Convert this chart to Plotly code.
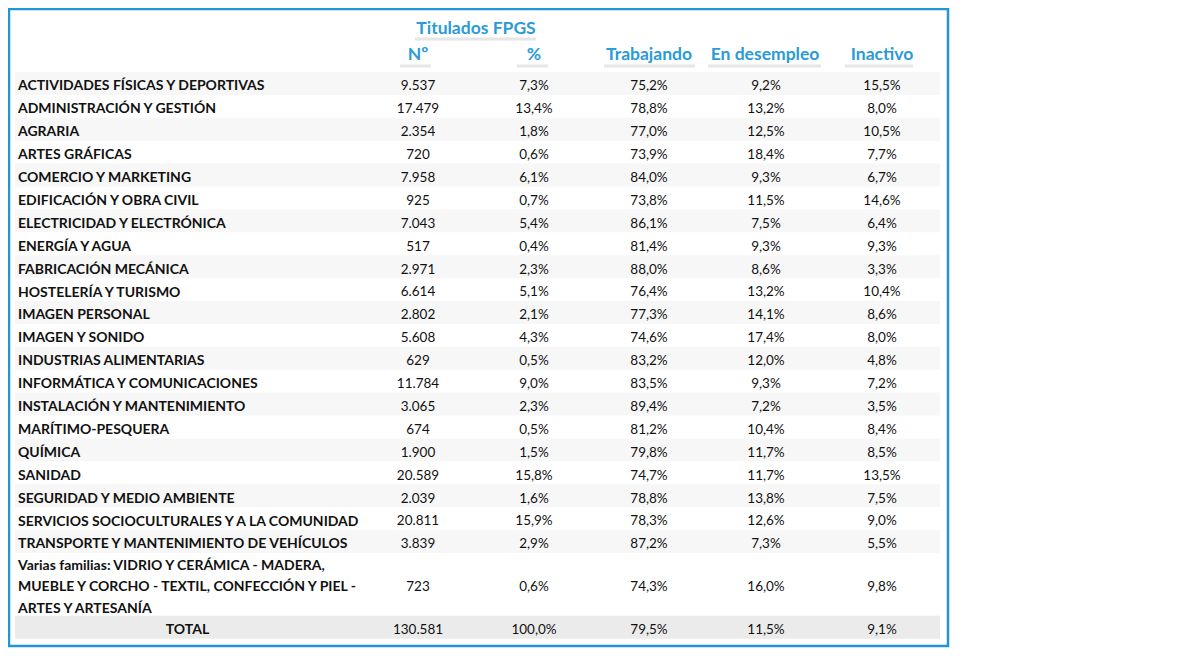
import plotly.graph_objects as go

familias = [
    "ACTIVIDADES FÍSICAS Y DEPORTIVAS",
    "ADMINISTRACIÓN Y GESTIÓN",
    "AGRARIA",
    "ARTES GRÁFICAS",
    "COMERCIO Y MARKETING",
    "EDIFICACIÓN Y OBRA CIVIL",
    "ELECTRICIDAD Y ELECTRÓNICA",
    "ENERGÍA Y AGUA",
    "FABRICACIÓN MECÁNICA",
    "HOSTELERÍA Y TURISMO",
    "IMAGEN PERSONAL",
    "IMAGEN Y SONIDO",
    "INDUSTRIAS ALIMENTARIAS",
    "INFORMÁTICA Y COMUNICACIONES",
    "INSTALACIÓN Y MANTENIMIENTO",
    "MARÍTIMO-PESQUERA",
    "QUÍMICA",
    "SANIDAD",
    "SEGURIDAD Y MEDIO AMBIENTE",
    "SERVICIOS SOCIOCULTURALES Y A LA COMUNIDAD",
    "TRANSPORTE Y MANTENIMIENTO DE VEHÍCULOS",
    "Varias familias: VIDRIO Y CERÁMICA - MADERA,\nMUEBLE Y CORCHO - TEXTIL, CONFECCIÓN Y PIEL -\nARTES Y ARTESANÍA",
    "TOTAL",
]
titulados_n = [9537, 17479, 2354, 720, 7958, 925, 7043, 517, 2971, 6614, 2802, 5608,
               629, 11784, 3065, 674, 1900, 20589, 2039, 20811, 3839, 723, 130581]
titulados_pct = [7.3, 13.4, 1.8, 0.6, 6.1, 0.7, 5.4, 0.4, 2.3, 5.1, 2.1, 4.3,
                 0.5, 9.0, 2.3, 0.5, 1.5, 15.8, 1.6, 15.9, 2.9, 0.6, 100.0]
trabajando = [75.2, 78.8, 77.0, 73.9, 84.0, 73.8, 86.1, 81.4, 88.0, 76.4, 77.3, 74.6,
              83.2, 83.5, 89.4, 81.2, 79.8, 74.7, 78.8, 78.3, 87.2, 74.3, 79.5]
desempleo = [9.2, 13.2, 12.5, 18.4, 9.3, 11.5, 7.5, 9.3, 8.6, 13.2, 14.1, 17.4,
             12.0, 9.3, 7.2, 10.4, 11.7, 11.7, 13.8, 12.6, 7.3, 16.0, 11.5]
inactivo = [15.5, 8.0, 10.5, 7.7, 6.7, 14.6, 6.4, 9.3, 3.3, 10.4, 8.6, 8.0,
            4.8, 7.2, 3.5, 8.4, 8.5, 13.5, 7.5, 9.0, 5.5, 9.8, 9.1]
columnas = ["Nº", "%", "Trabajando", "En desempleo", "Inactivo"]


def fmt_int(v):
    return f"{v:,}".replace(",", ".")


def fmt_pct(v):
    return f"{v:.1f}".replace(".", ",") + "%"


BLUE = "#2a9bd6"
FONT = "Lato"
W, H = 1180, 656
PAGE_OFF = 8  # the page body margin, so axis units equal page pixels

# layout in pixels
col_x = [418, 534, 649, 766, 882]
row_top0 = 72
row_h = 22.9
left, right = 15, 940

# row extents (the multi-line row is taller)
tops, bots = [], []
y = row_top0
for lab in familias:
    h = row_h * (2.75 if "\n" in lab else 1)
    tops.append(y)
    bots.append(y + h)
    y += h
mids = [(t + b) / 2 + 3.5 for t, b in zip(tops, bots)]

shapes = []
for i in range(len(familias)):
    if familias[i] == "TOTAL":
        fill = "#ebebeb"
    elif i % 2 == 0 and "\n" not in familias[i]:
        fill = "#f7f7f7"
    else:
        continue
    shapes.append(dict(type="rect", xref="x", yref="y", x0=left, x1=right,
                       y0=tops[i], y1=bots[i], fillcolor=fill, line_width=0,
                       layer="below"))

# header underlines
under = [(415, 536, 39), (400, 431, 66), (517, 548, 66), (604, 695, 66),
         (708, 821, 66), (845, 913, 66)]
for x0, x1, yy in under:
    shapes.append(dict(type="line", xref="x", yref="y", x0=x0, x1=x1, y0=yy, y1=yy,
                       line=dict(color="#e6e6e6", width=3)))

# outer blue frame
shapes.append(dict(type="rect", xref="x", yref="y", x0=9, x1=948, y0=9, y1=646,
                   line=dict(color="#2196d3", width=2.5), fillcolor="rgba(0,0,0,0)"))

fig = go.Figure()

# label column
lab_x, lab_y, lab_t = [], [], []
for i, lab in enumerate(familias):
    if lab == "TOTAL":
        continue
    lines = lab.split("\n")
    n = len(lines)
    for k, ln in enumerate(lines):
        lab_x.append(18)
        lab_y.append(mids[i] + (k - (n - 1) / 2) * 21.5)
        lab_t.append("<b>" + ln + "</b>")
fig.add_trace(go.Scatter(x=lab_x, y=lab_y, text=lab_t, mode="text",
                         textposition="middle right",
                         textfont=dict(family=FONT, size=14, color="#111111"),
                         hoverinfo="skip"))
fig.add_trace(go.Scatter(x=[(left + 360) / 2], y=[mids[-1]], text=["<b>TOTAL</b>"],
                         mode="text", textposition="middle center",
                         textfont=dict(family=FONT, size=14, color="#111111"),
                         hoverinfo="skip"))

# value columns
series = [
    [fmt_int(v) for v in titulados_n],
    [fmt_pct(v) for v in titulados_pct],
    [fmt_pct(v) for v in trabajando],
    [fmt_pct(v) for v in desempleo],
    [fmt_pct(v) for v in inactivo],
]
for cx, vals in zip(col_x, series):
    fig.add_trace(go.Scatter(x=[cx] * len(vals), y=mids, text=vals, mode="text",
                             textposition="middle center",
                             textfont=dict(family=FONT, size=13.5, color="#111111"),
                             hoverinfo="skip"))

# headers
hdr_x = [418, 534, 649, 765, 882]
fig.add_trace(go.Scatter(x=hdr_x, y=[56] * 5, text=["<b>" + c + "</b>" for c in columnas],
                         mode="text", textposition="middle center",
                         textfont=dict(family=FONT, size=17.5, color=BLUE),
                         hoverinfo="skip"))
fig.add_trace(go.Scatter(x=[476], y=[30], text=["<b>Titulados FPGS</b>"],
                         mode="text", textposition="middle center",
                         textfont=dict(family=FONT, size=17.5, color=BLUE),
                         hoverinfo="skip"))

fig.update_layout(
    width=W, height=H,
    margin=dict(l=0, r=0, t=0, b=0),
    paper_bgcolor="white", plot_bgcolor="white",
    showlegend=False,
    shapes=shapes,
    xaxis=dict(range=[PAGE_OFF, W + PAGE_OFF], visible=False, fixedrange=True),
    yaxis=dict(range=[H + PAGE_OFF, PAGE_OFF], visible=False, fixedrange=True),
)

fig.write_html("out.html")
